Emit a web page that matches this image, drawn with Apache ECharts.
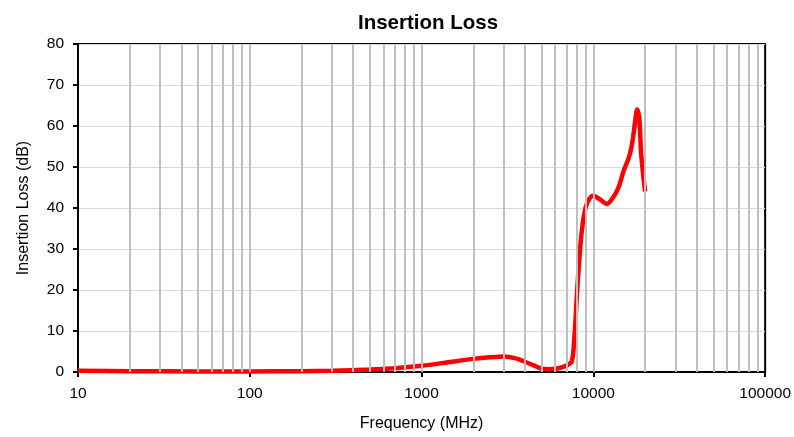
<!DOCTYPE html>
<html>
<head>
<meta charset="utf-8">
<script src="https://cdn.jsdelivr.net/npm/echarts@6/dist/echarts.min.js"></script>
<style>
  html, body { margin: 0; padding: 0; background: #fff; }
  #chart { width: 794px; height: 437px; }
</style>
</head>
<body>
<div id="chart"></div>
<script>
// frequency (MHz) and insertion loss (dB)
const freqMHz = [10, 20, 50, 100, 200, 300, 500, 700, 1000, 1500, 2000, 2500, 3000, 3500, 4000, 4500, 5000, 5500, 6000, 6500, 7000, 7500, 7800, 8000, 8300, 8600, 9000, 9500, 10000, 11000, 12000, 13000, 14000, 15000, 16000, 16500, 17000, 17500, 18000, 18500, 19000, 20000]
const lossDb = [0.3, 0.2, 0.15, 0.15, 0.2, 0.3, 0.6, 0.9, 1.5, 2.5, 3.2, 3.6, 3.8, 3.4, 2.5, 1.6, 0.8, 0.7, 0.8, 1.1, 1.6, 2.6, 10, 18, 28, 35, 40, 42.3, 43, 42, 41, 42.5, 45, 49, 52, 54, 57, 61, 64, 62, 53, 44]

// vertical grid positions (every 1..9 x decade)
const xGridValues = []
for (const decade of [10, 100, 1000, 10000]) {
  for (let m = 1; m <= 9; m++) {
    if (m === 1 && decade === 10) continue
    xGridValues.push(m * decade)
  }
}

const chart = echarts.init(document.getElementById('chart'))

const font = 'Liberation Sans, Arial, sans-serif'

chart.setOption({
  backgroundColor: '#fff',
  animation: false,
  title: {
    text: 'Insertion Loss',
    left: 423,
    top: 8,
    textAlign: 'center',
    textStyle: { fontFamily: font, fontSize: 20.5, fontWeight: 'bold', color: '#000' }
  },
  grid: {
    left: 78, right: 28, top: 44, bottom: 64,
    show: true,
    borderColor: '#000',
    borderWidth: 2
  },
  xAxis: {
    type: 'log',
    logBase: 10,
    min: 10,
    max: 100000,
    name: 'Frequency (MHz)',
    nameLocation: 'middle',
    nameGap: 44,
    nameTextStyle: { fontFamily: font, fontSize: 16, color: '#000' },
    axisLine: { lineStyle: { color: '#000', width: 2 } },
    axisTick: { show: true, length: 5, lineStyle: { color: '#000', width: 2 } },
    axisLabel: {
      fontFamily: font, fontSize: 15.5, color: '#000', margin: 14,
      formatter: (v) => String(Math.round(v))
    },
    splitLine: { show: false }
  },
  yAxis: {
    type: 'value',
    min: 0,
    max: 80,
    interval: 10,
    name: 'Insertion Loss (dB)',
    nameLocation: 'middle',
    nameGap: 46,
    nameTextStyle: { fontFamily: font, fontSize: 16, color: '#000' },
    axisLine: { show: true, lineStyle: { color: '#000', width: 2 } },
    axisTick: { show: true, length: 5, lineStyle: { color: '#000', width: 2 } },
    axisLabel: { fontFamily: font, fontSize: 15.5, color: '#000', margin: 14 },
    splitLine: { show: true, lineStyle: { color: '#d9d9d9', width: 1 } }
  },
  series: [
    {
      type: 'line',
      data: [],
      z: 1,
      silent: true,
      markLine: {
        silent: true,
        symbol: 'none',
        label: { show: false },
        lineStyle: { color: '#bfbfbf', width: 2, type: 'solid' },
        data: xGridValues.map((v) => ({ xAxis: v }))
      }
    },
    {
      type: 'line',
      z: 3,
      data: freqMHz.map((f, i) => [f, lossDb[i]]),
      smooth: 0.3,
      showSymbol: false,
      lineStyle: { color: '#ff0000', width: 4.5 },
      itemStyle: { color: '#ff0000' }
    }
  ]
})
</script>
</body>
</html>
